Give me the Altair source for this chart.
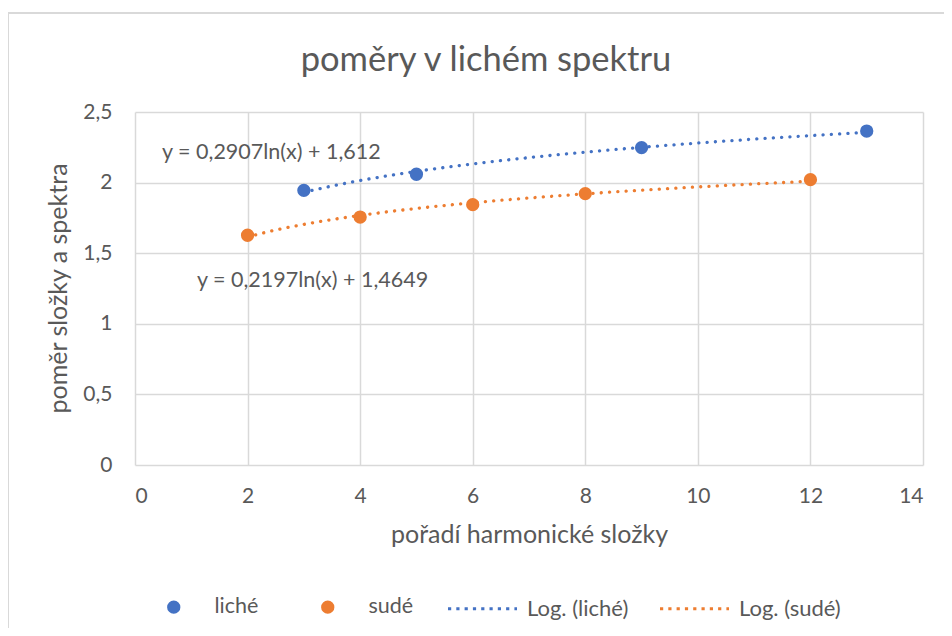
import altair as alt
import pandas as pd

# ---- data ----
x_liche = [3, 5, 9, 13]
y_liche = [1.945, 2.059, 2.248, 2.365]
x_sude = [2, 4, 6, 8, 12]
y_sude = [1.627, 1.756, 1.844, 1.922, 2.021]
series_names = ["liché", "sudé"]
trend_names = ["Log. (liché)", "Log. (sudé)"]
series_colors = ["#4472C4", "#ED7D31"]
eq_text = ["y = 0,2907ln(x) + 1,612", "y = 0,2197ln(x) + 1,4649"]
eq_x = [0.48, 1.10]
eq_y = [2.207, 1.30]
x_ticks = [0, 2, 4, 6, 8, 10, 12, 14]
y_ticks = [0, 0.5, 1, 1.5, 2, 2.5]

FONT = "Lato"
TXT = "#595959"
GRID = "#D9D9D9"
LABEL_EXPR = "replace(format(datum.value, '~g'), '.', ',')"

pts = pd.DataFrame({
    "x": x_liche + x_sude,
    "y": y_liche + y_sude,
    "series": [series_names[0]] * len(x_liche) + [series_names[1]] * len(x_sude),
})
eqs = pd.DataFrame({"x": eq_x, "y": eq_y, "t": eq_text})
frame_df = pd.DataFrame({"a": [0]})

xenc = alt.X("x:Q", scale=alt.Scale(domain=[0, 14], nice=False),
             axis=alt.Axis(values=x_ticks, title="pořadí harmonické složky", labelExpr=LABEL_EXPR,
                           domain=False, ticks=False, grid=True, gridColor=GRID, gridWidth=1.5,
                           labelFont=FONT, labelFontSize=21, labelColor=TXT, labelPadding=20,
                           titleFont=FONT, titleFontSize=25, titleColor=TXT, titleFontWeight="normal",
                           titlePadding=16))
yenc = alt.Y("y:Q", scale=alt.Scale(domain=[0, 2.5], nice=False),
             axis=alt.Axis(values=y_ticks, title="poměr složky a spektra", labelExpr=LABEL_EXPR,
                           domain=False, ticks=False, grid=True, gridColor=GRID, gridWidth=1.5,
                           labelFont=FONT, labelFontSize=21, labelColor=TXT, labelPadding=23,
                           titleFont=FONT, titleFontSize=25, titleColor=TXT, titleFontWeight="normal",
                           titleX=-64, titleY=176, titleBaseline="bottom"))

frame = alt.Chart(frame_df).mark_rect(fillOpacity=0, stroke=GRID, strokeWidth=2).encode(
    x=alt.value(-127), x2=alt.value(830), y=alt.value(-99), y2=alt.value(540))

trend = alt.Chart(pts).transform_regression(
    "x", "y", method="log", groupby=["series"]
).transform_calculate(
    trend="'Log. (' + datum.series + ')'"
).mark_line(strokeDash=[0.1, 8.2], strokeCap="round", strokeWidth=3.3).encode(
    x=xenc, y=yenc,
    color=alt.Color("trend:N", scale=alt.Scale(domain=trend_names, range=series_colors),
                    legend=alt.Legend(title=None, orient="none", direction="horizontal",
                                      legendX=311, legendY=460, symbolType="stroke",
                                      symbolSize=4761, symbolStrokeWidth=3.2,
                                      symbolDash=[3.2, 5.1], labelOffset=8, columnPadding=24,
                                      labelFont=FONT, labelFontSize=22, labelColor=TXT,
                                      padding=0, labelLimit=300)))

points = alt.Chart(pts).mark_point(filled=True, opacity=1, size=177).encode(
    x=xenc, y=yenc,
    color=alt.Color("series:N", scale=alt.Scale(domain=series_names, range=series_colors),
                    legend=alt.Legend(title=None, orient="none", direction="horizontal",
                                      legendX=28, legendY=484, symbolType="circle",
                                      symbolSize=177, symbolOpacity=1, labelOffset=30,
                                      columnPadding=58, labelFont=FONT, labelFontSize=21.5,
                                      labelColor=TXT, padding=0, labelLimit=300)))

eq = alt.Chart(eqs).mark_text(align="left", baseline="middle", font=FONT, fontSize=21.5,
                              color=TXT).encode(x="x:Q", y="y:Q", text="t:N")

chart = alt.layer(frame, trend, points, eq).resolve_scale(color="independent").properties(
    width=788, height=353,
    autosize=alt.AutoSizeParams(type="none"),
    padding={"left": 127, "top": 104, "right": 21, "bottom": 163},
    title=alt.TitleParams("poměry v lichém spektru", font=FONT, fontSize=34.5, color=TXT,
                          fontWeight="normal", offset=-66, dx=-43),
).configure_view(stroke=None)

chart.save("out.html", embed_options={"renderer": "svg", "actions": False})
